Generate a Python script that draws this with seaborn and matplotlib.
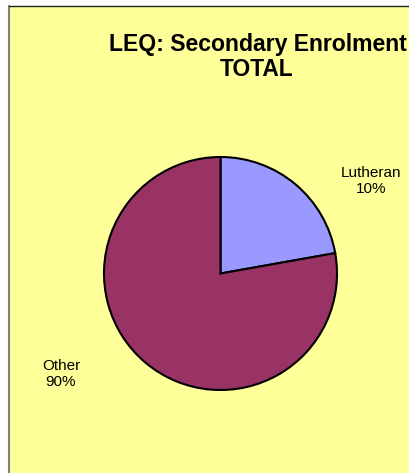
import matplotlib.pyplot as plt
import seaborn as sns
from matplotlib.patches import Rectangle
from matplotlib.lines import Line2D

# data
categories = ["Lutheran", "Other"]
shares = [22.2, 77.8]          # slice sizes as drawn
pct_labels = ["10%", "90%"]    # percentages as printed on the chart
colors = ["#9999FF", "#993366"]

sns.set_style("white")
plt.rcParams['font.family'] = ['Liberation Sans', 'DejaVu Sans']
plt.rcParams['text.color'] = 'black'

W, H = 410, 473
fig = plt.figure(figsize=(W / 100, H / 100), dpi=100)
fig.patch.set_facecolor("white")

# yellow chart area with its border
fig.patches.append(Rectangle((10 / W, 0), 1, 1 - 6 / H, transform=fig.transFigure,
                             facecolor="#FFFF99", edgecolor="none", zorder=-5))
fig.lines.append(Line2D([9.5 / W, 9.5 / W], [0, 1 - 6 / H], transform=fig.transFigure,
                        color="#808080", lw=1.5, zorder=-4))
fig.lines.append(Line2D([9.5 / W, 1], [1 - 6.5 / H, 1 - 6.5 / H], transform=fig.transFigure,
                        color="#202020", lw=1, zorder=-4))

# pie (matplotlib pads the limits to +-1.25, so size the axes for that)
cx, cy, r = 220.5, 273.5, 116.5
half = r * 1.25
ax = fig.add_axes([(cx - half) / W, (H - cy - half) / H, 2 * half / W, 2 * half / H])
ax.set_zorder(5)
ax.patch.set_alpha(0)
ax.pie(shares, colors=colors, startangle=90, counterclock=False,
       wedgeprops=dict(edgecolor="black", linewidth=1.5))
ax.set_aspect("equal")
ax.axis("off")

# title
fig.text(258 / W, 1 - 44 / H, "LEQ: Secondary Enrolment", ha="center", va="center",
         fontsize=16.6, fontweight="bold", zorder=6)
fig.text(257 / W, 1 - 70 / H, "TOTAL", ha="center", va="center",
         fontsize=16.4, fontweight="bold", zorder=6)

# slice labels
label_pos = [(371, 181), (61, 374)]
for cat, pct, (x, y) in zip(categories, pct_labels, label_pos):
    fig.text(x / W, 1 - y / H, f"{cat}\n{pct}", ha="center", va="center",
             fontsize=11, linespacing=1.15, zorder=6)

plt.savefig("out.png", dpi=100)
